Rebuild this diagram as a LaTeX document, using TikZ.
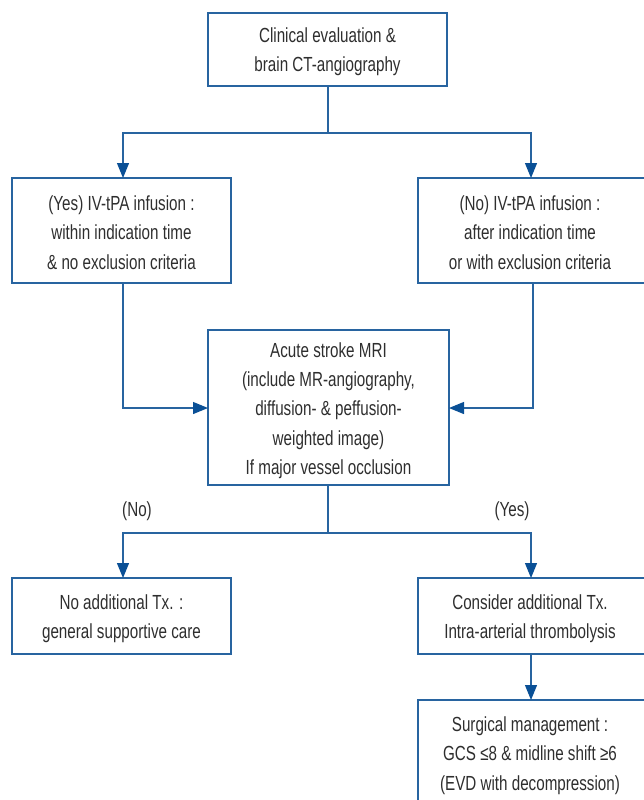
\documentclass[tikz,border=0pt]{standalone}
\usepackage{fontspec}
\setmainfont[FakeStretch=0.745]{Liberation Sans}
\usetikzlibrary{arrows.meta}
\definecolor{boxblue}{RGB}{40,100,160}
\definecolor{tipblue}{RGB}{10,80,150}
\begin{document}
\begin{tikzpicture}[x=1pt,y=-1pt,
  box/.style={draw=boxblue,line width=1.2pt},
  txt/.style={font=\fontsize{20.4}{29.3}\selectfont,text=black!82,align=center},
  conn/.style={draw=boxblue,line width=1.2pt},
  arr/.style={conn,-{Triangle[width=12pt,length=15pt,color=tipblue]}}]
\useasboundingbox (0,0) rectangle (643,800);
% boxes
\draw[box] (208,13) rectangle (447,86);
\node[txt] (top) at (327.5,51.5) {Clinical evaluation \&\\brain CT-angiography};
\draw[box] (12,178) rectangle (231,283);
\node[txt] (yes) at (121.5,232.5) {(Yes) IV-tPA infusion :\\within indication time\\\& no exclusion criteria};
\draw[box] (418,178) rectangle (650,283);
\node[txt] (no) at (530,232.5) {(No) IV-tPA infusion :\\after indication time\\or with exclusion criteria};
\draw[box] (208,330) rectangle (449,485);
\node[txt] (mri) at (328.5,410.5) {Acute stroke MRI\\(include MR-angiography,\\diffusion- \& peffusion-\\weighted image)\\If major vessel occlusion};
\draw[box] (12,578) rectangle (231,654);
\node[txt] (noadd) at (121.5,618.5) {No additional Tx. :\\general supportive care};
\draw[box] (418,578) rectangle (650,654);
\node[txt] (cons) at (530,618.5) {Consider additional Tx.\\Intra-arterial thrombolysis};
\draw[box] (418,700) rectangle (650,810);
\node[txt] (surg) at (530,755.5) {Surgical management :\\GCS ≤8 \& midline shift ≥6\\(EVD with decompression)};
% coordinates
\coordinate (t1) at (328,86);
\coordinate (t2) at (328,133);
\coordinate (yl) at (123,178);
\coordinate (nr) at (531,178);
\coordinate (yb) at (123,283);
\coordinate (nb) at (533,283);
\coordinate (ml) at (208,408);
\coordinate (mr) at (449,408);
\coordinate (m1) at (328,485);
\coordinate (m2) at (328,533);
\coordinate (bl) at (123,578);
\coordinate (br) at (531,578);
\coordinate (cb) at (531,654);
\coordinate (st) at (531,700);
% connectors
\draw[conn] (t1) -- (t2);
\draw[arr] (t2) -| (yl);
\draw[arr] (t2) -| (nr);
\draw[arr] (yb) |- (ml);
\draw[arr] (nb) |- (mr);
\draw[conn] (m1) -- (m2);
\draw[arr] (m2) -| (bl);
\draw[arr] (m2) -| (br);
\draw[arr] (cb) -- (st);
\node[txt] (lno) at (137,511.5) {(No)};
\node[txt] (lyes) at (512,511.5) {(Yes)};
\end{tikzpicture}
\end{document}
